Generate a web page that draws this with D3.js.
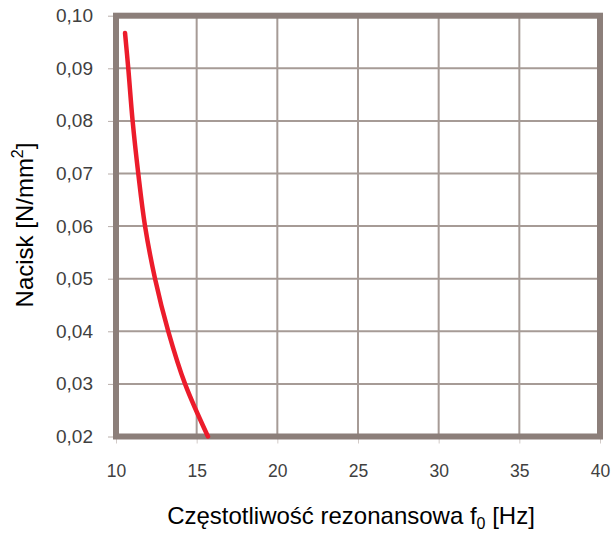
<!DOCTYPE html>
<html>
<head>
<meta charset="utf-8">
<script src="https://cdn.jsdelivr.net/npm/d3@7"></script>
<style>
  body { margin: 0; background: #fff; }
  svg { display: block; font-family: "Liberation Sans", Arial, sans-serif; }
</style>
</head>
<body>
<svg width="613" height="533"></svg>
<script>
// curve
var freq = [10.56, 10.76, 11.03, 11.38, 11.80, 12.42, 13.24, 14.28, 15.70];
var pressure = [0.0967, 0.09, 0.08, 0.07, 0.06, 0.05, 0.04, 0.03, 0.02];
var xTicks = [10, 15, 20, 25, 30, 35, 40];
var yTicks = [0.02, 0.03, 0.04, 0.05, 0.06, 0.07, 0.08, 0.09, 0.10];

var svg = d3.select("svg"),
    margin = {top: 15.7, right: 13, bottom: 96.5, left: 116},
    width = +svg.attr("width") - margin.left - margin.right,
    height = +svg.attr("height") - margin.top - margin.bottom,
    g = svg.append("g").attr("transform", "translate(" + margin.left + "," + margin.top + ")");

var x = d3.scaleLinear().domain([10, 40]).range([0, width]);
var y = d3.scaleLinear().domain([0.02, 0.10]).range([height, 0]);

var fmt = function (d) { return d3.format(".2f")(d).replace(".", ","); };

// grid
g.append("g")
    .selectAll("line.vx")
    .data(xTicks)
    .enter().append("line")
    .attr("x1", function (d) { return x(d); })
    .attr("x2", function (d) { return x(d); })
    .attr("y1", 0).attr("y2", height)
    .attr("stroke", "#a69b96").attr("stroke-width", 2);

g.append("g")
    .selectAll("line.hy")
    .data(yTicks)
    .enter().append("line")
    .attr("y1", function (d) { return y(d); })
    .attr("y2", function (d) { return y(d); })
    .attr("x1", 0).attr("x2", width)
    .attr("stroke", "#a69b96").attr("stroke-width", 2);

// y axis
var yAxis = g.append("g")
    .call(d3.axisLeft(y).tickValues(yTicks).tickFormat(fmt).tickSize(8).tickPadding(15));
yAxis.select(".domain").remove();
yAxis.selectAll("line").attr("stroke", "#b8aeaa");
yAxis.selectAll("text").attr("font-size", 19).attr("fill", "#404040")
    .attr("font-family", "Liberation Sans, Arial, sans-serif");

// x axis
var xAxis = g.append("g")
    .attr("transform", "translate(0," + height + ")")
    .call(d3.axisBottom(x).tickValues(xTicks).tickSize(7).tickPadding(21));
xAxis.select(".domain").remove();
xAxis.selectAll("line").attr("stroke", "#d2cbc8");
xAxis.selectAll("text").attr("font-size", 17.5).attr("fill", "#404040")
    .attr("font-family", "Liberation Sans, Arial, sans-serif");

// plot frame
g.append("rect")
    .attr("x", 0).attr("y", 0)
    .attr("width", width).attr("height", height)
    .attr("fill", "none")
    .attr("stroke", "#8c7f7a")
    .attr("stroke-width", 6);

// curve
var line = d3.line()
    .x(function (d, i) { return x(freq[i]); })
    .y(function (d) { return y(d); })
    .curve(d3.curveCatmullRom);

g.append("path")
    .datum(pressure)
    .attr("d", line)
    .attr("fill", "none")
    .attr("stroke", "#ec1c2b")
    .attr("stroke-width", 4.5)
    .attr("stroke-linecap", "round");

// axis titles
var xt = svg.append("text")
    .attr("x", 351).attr("y", 524)
    .attr("text-anchor", "middle")
    .attr("font-size", 24)
    .attr("fill", "#000");
xt.append("tspan").text("Częstotliwość rezonansowa f");
xt.append("tspan").attr("font-size", 16).attr("dy", 5).text("0");
xt.append("tspan").attr("dy", -5).text(" [Hz]");

var yt = svg.append("text")
    .attr("transform", "translate(33,225) rotate(-90)")
    .attr("text-anchor", "middle")
    .attr("font-size", 24)
    .attr("fill", "#000");
yt.append("tspan").text("Nacisk [N/mm");
yt.append("tspan").attr("font-size", 16).attr("dy", -10).text("2");
yt.append("tspan").attr("dy", 10).text("]");
</script>
</body>
</html>
